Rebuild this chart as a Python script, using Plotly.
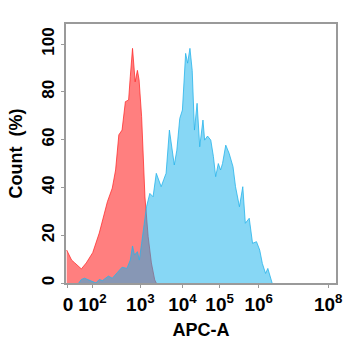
import plotly.graph_objects as go

# Display-channel positions (transformed APC-A scale) and % of max count
red_x = [0.7, 5.7, 9, 15.7, 20.7, 27.3, 34, 37.3, 42.3, 47.3, 50.7, 54, 57.3, 60.7,
         64, 65.7, 68, 70.7, 73, 74.7, 77.3, 80.7, 84, 87.3, 90.7, 92.3]
red_y = [13.8, 9.6, 8.4, 5.9, 8.4, 12.7, 20.9, 26.4, 34, 39.7, 47.3, 62, 64, 75.9,
         76.6, 86.3, 98.2, 84.2, 89, 85, 69.6, 36, 19.4, 8.4, 1.3, 0]

blue_x = [13, 15.7, 19, 24, 30.7, 34, 37.3, 43.3, 47.3, 52.3, 57.3, 62.3, 65.7, 68, 70,
          73, 75, 77.3, 80, 82.3, 85.7, 89, 92.3, 95, 97.3, 100, 102.3, 105.7, 108.3,
          110.7, 113.3, 116.3, 119, 122.3, 124.3, 126.7, 129, 131.3, 134, 136.7, 140,
          141.7, 144.7, 148, 150.7, 153, 155.7, 158, 160, 163.3, 166.7, 170.7, 173.3,
          177.3, 180.7, 183.3, 187.3, 190.7, 194.7, 198, 200.7, 204, 206.3, 209, 210.7]
blue_y = [0, 1.5, 2, 1, 0, 1.5, 1, 2.9, 2, 4.3, 6.6, 6.1, 9.6, 15.5, 11.7,
          13.1, 9.6, 16.6, 25, 31.9, 37.5, 36.1, 45.9, 43.1, 40.3, 43.4, 45.9, 64, 55.6,
          49.4, 55.6, 68.9, 72.4, 96.1, 92, 98.2, 89, 64, 75.2, 57, 68.2,
          59.8, 61.5, 59.8, 52.9, 44.5, 50, 47.3, 50, 57.7, 54.3, 48.7, 40.3,
          31.9, 40.3, 25, 27.1, 16.6, 17.3, 13.8, 8.2, 4, 6.1, 2.6, 0]

tick_pos = [2, 27, 76, 119, 157, 197, 268]
tick_text = ["0", "10<sup>2</sup>", "10<sup>3</sup>", "10<sup>4</sup>",
             "10<sup>5</sup>", "10<sup>6</sup>", "10<sup>8</sup>"]
y_ticks = [0, 20, 40, 60, 80, 100]

fig = go.Figure()
fig.add_trace(go.Scatter(
    x=red_x, y=red_y, mode="lines", fill="tozeroy",
    line=dict(color="rgba(255,40,40,0.75)", width=1),
    fillcolor="rgba(255,0,0,0.5)", showlegend=False,
))
fig.add_trace(go.Scatter(
    x=blue_x, y=blue_y, mode="lines", fill="tozeroy",
    line=dict(color="rgba(40,180,235,0.8)", width=1),
    fillcolor="rgba(15,175,235,0.5)", showlegend=False,
))

axis_font = dict(family="Liberation Sans", size=18, color="black")
fig.update_layout(
    width=348, height=350,
    margin=dict(l=66, r=6, t=24, b=67),
    paper_bgcolor="white", plot_bgcolor="white",
    xaxis=dict(
        range=[0, 276], tickmode="array", tickvals=tick_pos, ticktext=tick_text,
        showgrid=False, zeroline=False, showline=True, mirror=True,
        linecolor="#9a9a9a", linewidth=1.5, ticks="outside", ticklen=3,
        tickcolor="#9a9a9a",
        tickfont=dict(family="Liberation Sans", size=19, color="black", weight="bold"),
        title=dict(text="<b>APC-A</b>", font=axis_font, standoff=10),
    ),
    yaxis=dict(
        range=[0, 108.4], tickmode="array", tickvals=y_ticks,
        showgrid=False, zeroline=False, showline=True, mirror=True,
        linecolor="#9a9a9a", linewidth=1.5, ticks="outside", ticklen=3,
        tickcolor="#9a9a9a", tickangle=-90,
        tickfont=dict(family="Liberation Sans", size=17, color="black", weight="bold"),
        title=dict(text="<b>Count  (%)</b>", font=axis_font, standoff=12),
    ),
)

fig.write_html("out.html")
